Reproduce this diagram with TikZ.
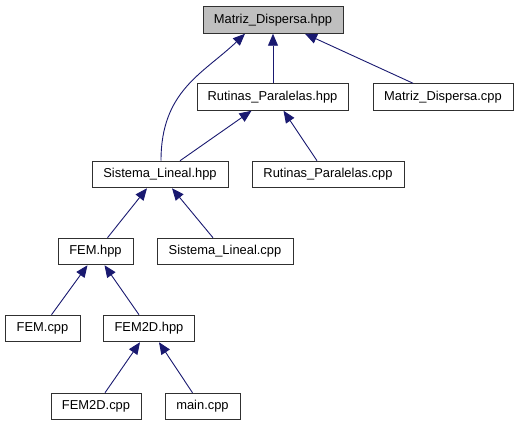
\documentclass[tikz,border=0pt]{standalone}
\usepackage{fontspec}
\setmainfont{Liberation Sans}
\usetikzlibrary{arrows.meta}
\definecolor{edgecol}{HTML}{191970}
\definecolor{topfill}{HTML}{BFBFBF}
\definecolor{boxline}{HTML}{303030}
\tikzset{
  box/.style={draw=boxline, line width=1pt, fill=white, minimum height=26.5pt, inner sep=0pt, font=\fontsize{12.9}{15}\selectfont},
  topbox/.style={box, fill=topfill},
  edge/.style={draw=edgecol, line width=0.9pt, -{Triangle[length=12pt,width=10pt]}}
}
\begin{document}
\begin{tikzpicture}[x=1pt,y=-1pt]
\useasboundingbox (0,0) rectangle (517,427);
\node[topbox, minimum width=140pt] (MDh) at (273,20) {Matriz\_Dispersa.hpp};
\node[box, minimum width=151pt] (RPh) at (272.5,97) {Rutinas\_Paralelas.hpp};
\node[box, minimum width=140pt] (MDc) at (443,97) {Matriz\_Dispersa.cpp};
\node[box, minimum width=136pt] (SLh) at (160,174.5) {Sistema\_Lineal.hpp};
\node[box, minimum width=152pt] (RPc) at (328,174.5) {Rutinas\_Paralelas.cpp};
\node[box, minimum width=75pt] (FEMh) at (95.5,251.5) {FEM.hpp};
\node[box, minimum width=136pt] (SLc) at (225,251.5) {Sistema\_Lineal.cpp};
\node[box, minimum width=75pt] (FEMc) at (42.5,328.5) {FEM.cpp};
\node[box, minimum width=91pt] (F2h) at (149,328.5) {FEM2D.hpp};
\node[box, minimum width=90pt] (F2c) at (96,406.5) {FEM2D.cpp};
\node[box, minimum width=75pt] (mainc) at (202.5,406.5) {main.cpp};

\draw[edge] ([xshift=0.5pt]RPh.north) -- ([xshift=0pt]MDh.south);
\draw[edge] ([xshift=1pt]SLh.north) .. controls ([xshift=1pt,yshift=70pt]SLh.north) and ([xshift=-70pt,yshift=-40pt]MDh.south) .. ([xshift=-28pt]MDh.south);
\draw[edge] ([xshift=-30pt]MDc.north) -- ([xshift=32pt]MDh.south);
\draw[edge] ([xshift=20pt]SLh.north) -- ([xshift=-21pt]RPh.south);
\draw[edge] ([xshift=-11pt]RPc.north) -- ([xshift=11pt]RPh.south);
\draw[edge] ([xshift=12pt]FEMh.north) -- ([xshift=-13pt]SLh.south);
\draw[edge] ([xshift=-12pt]SLc.north) -- ([xshift=12pt]SLh.south);
\draw[edge] ([xshift=9pt]FEMc.north) -- ([xshift=-8pt]FEMh.south);
\draw[edge] ([xshift=-10pt]F2h.north) -- ([xshift=9pt]FEMh.south);
\draw[edge] ([xshift=9pt]F2c.north) -- ([xshift=-9pt]F2h.south);
\draw[edge] ([xshift=-10pt]mainc.north) -- ([xshift=10pt]F2h.south);
\end{tikzpicture}
\end{document}
